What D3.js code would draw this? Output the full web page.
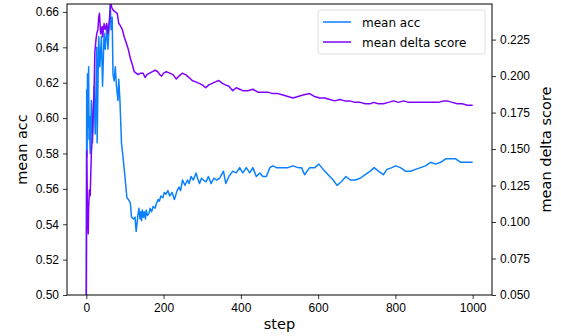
<!DOCTYPE html>
<html>
<head>
<meta charset="utf-8">
<script src="https://cdn.jsdelivr.net/npm/d3@7"></script>
<style>
  body { margin: 0; background: #fff; }
  svg { font-family: "DejaVu Sans", sans-serif; }
</style>
</head>
<body>
<div id="chart"></div>
<script>
// mean acc (step, value)
const accSteps = [0, 1, 2, 3, 4, 6, 7, 8, 10, 13, 16, 20, 23, 27, 28, 32, 35, 39, 42, 46, 49, 53, 56, 60, 62, 64, 67, 69, 72, 75, 78, 82, 84, 87, 91, 94, 100, 105, 109, 114, 117, 122, 126, 129, 133, 136, 139, 141, 143, 145, 148, 150, 153, 155, 158, 162, 165, 169, 173, 178, 182, 186, 189, 193, 198, 202, 206, 211, 216, 222, 228, 235, 240, 244, 249, 255, 262, 266, 271, 277, 284, 288, 293, 298, 303, 310, 316, 323, 330, 337, 345, 350, 355, 361, 369, 379, 388, 397, 405, 414, 423, 431, 440, 449, 457, 466, 475, 483, 492, 501, 509, 522, 535, 548, 557, 565, 578, 591, 602, 613, 626, 639, 649, 660, 672, 683, 696, 709, 722, 735, 745, 756, 769, 778, 791, 800, 813, 826, 839, 852, 865, 878, 891, 904, 917, 930, 943, 956, 969, 982, 1000];
const accValues = [0.500, 0.616, 0.578, 0.625, 0.595, 0.629, 0.588, 0.601, 0.580, 0.610, 0.586, 0.618, 0.591, 0.640, 0.586, 0.646, 0.629, 0.646, 0.618, 0.648, 0.639, 0.652, 0.639, 0.656, 0.665, 0.650, 0.657, 0.625, 0.621, 0.629, 0.618, 0.610, 0.622, 0.610, 0.586, 0.580, 0.567, 0.555, 0.554, 0.552, 0.544, 0.543, 0.544, 0.536, 0.544, 0.549, 0.543, 0.547, 0.542, 0.548, 0.544, 0.547, 0.543, 0.548, 0.545, 0.546, 0.549, 0.547, 0.550, 0.549, 0.552, 0.554, 0.553, 0.556, 0.555, 0.558, 0.557, 0.559, 0.556, 0.558, 0.554, 0.559, 0.561, 0.559, 0.565, 0.562, 0.565, 0.563, 0.567, 0.565, 0.569, 0.566, 0.563, 0.566, 0.565, 0.564, 0.567, 0.563, 0.566, 0.565, 0.566, 0.568, 0.570, 0.563, 0.567, 0.570, 0.569, 0.572, 0.569, 0.572, 0.569, 0.572, 0.567, 0.569, 0.567, 0.567, 0.572, 0.573, 0.572, 0.572, 0.572, 0.572, 0.573, 0.572, 0.572, 0.568, 0.572, 0.572, 0.574, 0.571, 0.568, 0.565, 0.562, 0.564, 0.567, 0.565, 0.565, 0.566, 0.568, 0.570, 0.572, 0.570, 0.568, 0.571, 0.572, 0.573, 0.572, 0.570, 0.570, 0.571, 0.572, 0.573, 0.575, 0.574, 0.575, 0.577, 0.577, 0.577, 0.575, 0.575, 0.575];

// mean delta score (step, value)
const deltaSteps = [0, 1, 3, 5, 6, 8, 10, 13, 16, 18, 20, 22, 25, 27, 30, 32, 34, 37, 41, 42, 46, 49, 53, 56, 60, 63, 66, 70, 75, 80, 84, 87, 93, 98, 103, 109, 114, 119, 124, 129, 134, 140, 147, 152, 157, 164, 171, 178, 185, 190, 195, 200, 207, 216, 224, 233, 240, 248, 257, 266, 274, 283, 292, 300, 309, 317, 326, 334, 343, 352, 360, 369, 379, 388, 397, 405, 418, 431, 444, 457, 470, 483, 496, 509, 522, 535, 548, 561, 578, 591, 604, 617, 630, 643, 656, 669, 682, 695, 709, 722, 735, 743, 756, 769, 782, 795, 808, 821, 834, 847, 860, 873, 886, 899, 912, 925, 934, 947, 960, 973, 986, 1000];
const deltaValues = [0.050, 0.149, 0.105, 0.092, 0.110, 0.122, 0.118, 0.147, 0.161, 0.177, 0.188, 0.216, 0.225, 0.229, 0.232, 0.240, 0.243, 0.229, 0.234, 0.227, 0.236, 0.232, 0.236, 0.229, 0.238, 0.250, 0.247, 0.245, 0.244, 0.243, 0.236, 0.235, 0.232, 0.227, 0.223, 0.218, 0.212, 0.208, 0.203, 0.202, 0.201, 0.202, 0.202, 0.199, 0.201, 0.202, 0.203, 0.204, 0.203, 0.201, 0.200, 0.202, 0.203, 0.202, 0.201, 0.198, 0.200, 0.202, 0.201, 0.199, 0.197, 0.196, 0.195, 0.194, 0.192, 0.194, 0.195, 0.196, 0.197, 0.195, 0.194, 0.193, 0.190, 0.192, 0.191, 0.190, 0.190, 0.191, 0.189, 0.189, 0.189, 0.188, 0.188, 0.187, 0.186, 0.185, 0.186, 0.187, 0.188, 0.186, 0.185, 0.185, 0.184, 0.183, 0.184, 0.183, 0.183, 0.182, 0.182, 0.181, 0.181, 0.182, 0.181, 0.181, 0.182, 0.183, 0.182, 0.183, 0.182, 0.182, 0.182, 0.182, 0.182, 0.182, 0.182, 0.183, 0.183, 0.182, 0.181, 0.181, 0.180, 0.180];

const xTicks = [0, 200, 400, 600, 800, 1000];
const accTicks = [0.50, 0.52, 0.54, 0.56, 0.58, 0.60, 0.62, 0.64, 0.66];
const deltaTicks = [0.050, 0.075, 0.100, 0.125, 0.150, 0.175, 0.200, 0.225];

const seriesNames = ['mean acc', 'mean delta score'];
const colors = ['#0a80ff', '#8000ff'];

const W = 561, H = 336;
const margin = { top: 4, right: 69, bottom: 41, left: 67 };
const width = W - margin.left - margin.right;
const height = H - margin.top - margin.bottom;

const svg = d3.select('#chart').append('svg')
  .attr('width', W).attr('height', H);

const g = svg.append('g').attr('transform', `translate(${margin.left},${margin.top})`);

const x = d3.scaleLinear().domain([-50, 1050]).range([0, width]);
const yL = d3.scaleLinear().domain([0.5, 0.6645]).range([height, 0]);
const yR = d3.scaleLinear().domain([0.05, 0.2494]).range([height, 0]);

g.append('clipPath').attr('id', 'clip')
  .append('rect').attr('width', width).attr('height', height);

const accData = accSteps.map((s, i) => [s, accValues[i]]);
const deltaData = deltaSteps.map((s, i) => [s, deltaValues[i]]);

const plot = g.append('g').attr('clip-path', 'url(#clip)');

plot.append('path')
  .datum(accData)
  .attr('fill', 'none')
  .attr('stroke', colors[0])
  .attr('stroke-width', 1.5)
  .attr('stroke-linejoin', 'round')
  .attr('d', d3.line().x(d => x(d[0])).y(d => yL(d[1])));

plot.append('path')
  .datum(deltaData)
  .attr('fill', 'none')
  .attr('stroke', colors[1])
  .attr('stroke-width', 1.5)
  .attr('stroke-linejoin', 'round')
  .attr('d', d3.line().x(d => x(d[0])).y(d => yR(d[1])));

// axes
const styleAxis = sel => {
  sel.select('.domain').remove();
  sel.selectAll('.tick line').attr('stroke', '#000').attr('stroke-width', 0.8);
  sel.selectAll('.tick text').attr('fill', '#000').style('font-size', '12px');
};

g.append('g')
  .attr('transform', `translate(0,${height})`)
  .call(d3.axisBottom(x).tickValues(xTicks).tickSize(4).tickPadding(4).tickFormat(d3.format('d')))
  .call(styleAxis);

g.append('g')
  .call(d3.axisLeft(yL).tickValues(accTicks).tickSize(4).tickPadding(4).tickFormat(d3.format('.2f')))
  .call(styleAxis);

g.append('g')
  .attr('transform', `translate(${width},0)`)
  .call(d3.axisRight(yR).tickValues(deltaTicks).tickSize(4).tickPadding(4).tickFormat(d3.format('.3f')))
  .call(styleAxis);

// frame
g.append('rect')
  .attr('width', width).attr('height', height)
  .attr('fill', 'none').attr('stroke', '#000').attr('stroke-width', 1);

// axis titles
svg.append('text')
  .attr('x', margin.left + width / 2).attr('y', 329)
  .attr('text-anchor', 'middle').style('font-size', '14.5px')
  .text('step');

svg.append('text')
  .attr('transform', `translate(27,${margin.top + height / 2}) rotate(-90)`)
  .attr('text-anchor', 'middle').style('font-size', '14.5px')
  .text('mean acc');

svg.append('text')
  .attr('transform', `translate(551,${margin.top + height / 2}) rotate(-90)`)
  .attr('text-anchor', 'middle').style('font-size', '14.5px')
  .text('mean delta score');

// legend
const legend = svg.append('g').attr('transform', 'translate(318,10)');
legend.append('rect')
  .attr('width', 167).attr('height', 44).attr('rx', 2.5)
  .attr('fill', '#fff').attr('fill-opacity', 0.8)
  .attr('stroke', '#d6d6d6').attr('stroke-width', 0.8);

seriesNames.forEach((name, i) => {
  const yy = 12 + i * 20;
  legend.append('line')
    .attr('x1', 5).attr('x2', 33).attr('y1', yy).attr('y2', yy)
    .attr('stroke', colors[i]).attr('stroke-width', 1.5);
  legend.append('text')
    .attr('x', 44).attr('y', yy + 4.5)
    .style('font-size', '12px')
    .text(name);
});
</script>
</body>
</html>
